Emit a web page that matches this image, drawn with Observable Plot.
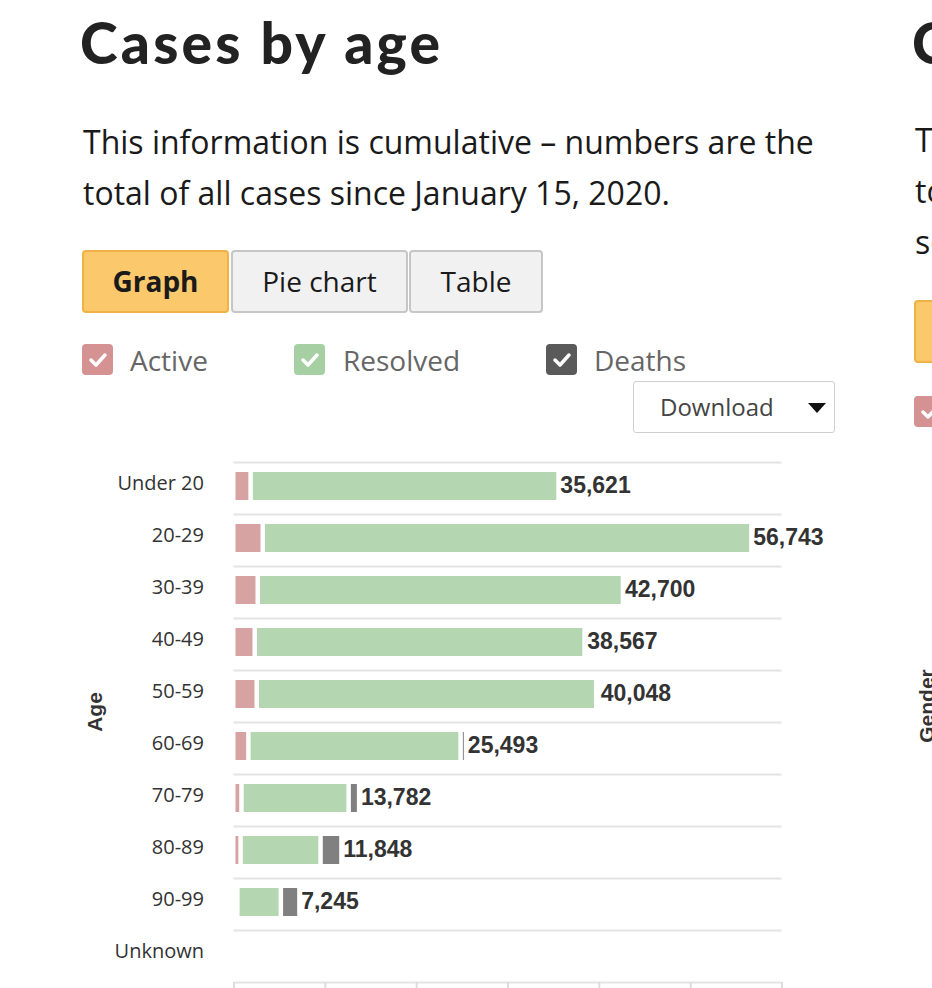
<!DOCTYPE html>
<html>
<head>
<meta charset="utf-8">
<script src="https://cdn.jsdelivr.net/npm/d3@7"></script>
<script src="https://cdn.jsdelivr.net/npm/@observablehq/plot@0.6"></script>
<style>
  html, body { margin: 0; padding: 0; width: 932px; height: 988px; overflow: hidden; background: #fff; }
  body { position: relative; font-family: "Open Sans", sans-serif; color: #1a1a1a; }
  .abs { position: absolute; white-space: nowrap; }
  .title { font-family: Lato, sans-serif; font-weight: 900; font-size: 57px; line-height: 57px; color: #222; letter-spacing: 3.2px; }
  .sub { font-size: 32px; line-height: 51px; color: #1a1a1a; }
  .btn { position: absolute; top: 250px; height: 63px; box-sizing: border-box; border: 2px solid #c6c6c6; background: #f1f1f1; border-radius: 4px;
         font-size: 28px; line-height: 59px; text-align: center; color: #1a1a1a; }
  .btn.on { background: #fcc86c; border-color: #f0b244; font-weight: 700; }
  .box { position: absolute; top: 344px; width: 31px; height: 31px; border-radius: 4px; }
  .box svg { position: absolute; left: 0; top: 0; }
  .leg { position: absolute; top: 338px; font-size: 28px; line-height: 44px; color: #666; }
  .dl { position: absolute; left: 633px; top: 381px; width: 202px; height: 52px; box-sizing: border-box; border: 1px solid #cfcfcf; border-radius: 3px; background: #fff; }
  .dl span { position: absolute; left: 26px; top: 0; font-size: 24px; line-height: 50px; color: #444; }
  .rot { position: absolute; transform: translate(-50%, -50%) rotate(-90deg); font-family: "Liberation Sans", Arial, sans-serif; font-weight: 700; font-size: 21px; color: #333; white-space: nowrap; }
  #chart { position: absolute; left: 0; top: 440px; }
</style>
</head>
<body>
<!-- panel 1 -->
<div class="abs title" style="left:80px; top:14px;">Cases by age</div>
<div class="abs sub" style="left:83px; top:116px;">This information is cumulative – numbers are the<br>total of all cases since January 15, 2020.</div>
<div class="btn on" style="left:82px; width:147px;">Graph</div>
<div class="btn" style="left:231px; width:177px;">Pie chart</div>
<div class="btn" style="left:409px; width:134px;">Table</div>

<div class="box" style="left:82px; background:#d49292;"><svg width="31" height="31"><path d="M9 16 L14 21 L23 11" fill="none" stroke="#fff" stroke-width="3.5" stroke-linecap="round" stroke-linejoin="round"/></svg></div>
<div class="leg" style="left:130px;">Active</div>
<div class="box" style="left:294px; background:#a6d0a3;"><svg width="31" height="31"><path d="M9 16 L14 21 L23 11" fill="none" stroke="#fff" stroke-width="3.5" stroke-linecap="round" stroke-linejoin="round"/></svg></div>
<div class="leg" style="left:343px;">Resolved</div>
<div class="box" style="left:546px; background:#5a5a5a;"><svg width="31" height="31"><path d="M9 16 L14 21 L23 11" fill="none" stroke="#fff" stroke-width="3.5" stroke-linecap="round" stroke-linejoin="round"/></svg></div>
<div class="leg" style="left:594px;">Deaths</div>

<div class="dl"><span>Download</span><svg style="position:absolute; left:173px; top:20px;" width="20" height="12"><path d="M1 1 L19 1 L10 11 Z" fill="#111"/></svg></div>

<div class="rot" style="left:95px; top:712px;">Age</div>

<!-- panel 2 (cut off at the right edge) -->
<div class="abs title" style="left:912px; top:14px;">Cases by gender</div>
<div class="abs sub" style="left:915px; top:114px;">This information is cumulative – numbers are the<br>total of all cases since January 15, 2020,<br>sorted by gender.</div>
<div class="btn on" style="left:914px; top:300px; width:147px;">Graph</div>
<div class="box" style="left:914px; top:396px; background:#d49292;"><svg width="31" height="31"><path d="M9 16 L14 21 L23 11" fill="none" stroke="#fff" stroke-width="3.5" stroke-linecap="round" stroke-linejoin="round"/></svg></div>
<div class="rot" style="left:927px; top:706px;">Gender</div>

<div id="chart"></div>

<script>
// ---- data ----
const ages = ["Under 20", "20-29", "30-39", "40-49", "50-59", "60-69", "70-79", "80-89", "90-99", "Unknown"];
const active   = [1900, 3230, 2680, 2350, 2570, 1660, 900, 800, 450, 0];
const resolved = [33718, 53503, 39990, 36117, 37178, 23233, 11732, 8758, 4760, 0];
const deaths   = [3, 10, 30, 100, 300, 600, 1150, 2290, 2035, 0];
const totals   = [35621, 56743, 42700, 38567, 40048, 25493, 13782, 11848, 7245, null];
const statuses = ["Active", "Resolved", "Deaths"];
const statusColors = ["#d6a2a2", "#b4d7b1", "#808080"];
const xTicks = [0, 10000, 20000, 30000, 40000, 50000, 60000];

const long = [];
ages.forEach((a, i) => {
  long.push({age: a, status: "Active", value: active[i]});
  long.push({age: a, status: "Resolved", value: resolved[i]});
  long.push({age: a, status: "Deaths", value: deaths[i]});
});
const labels = ages.map((a, i) => ({age: a, total: totals[i]})).filter(d => d.total != null);

const chart = Plot.plot({
  width: 932,
  height: 600,
  marginLeft: 233.5,
  marginRight: 150.5,
  marginTop: 22,
  marginBottom: 58,
  style: {fontFamily: "Open Sans, sans-serif", background: "transparent", overflow: "visible"},
  x: {domain: [0, 60000]},
  y: {domain: ages, padding: 0},
  color: {domain: statuses, range: statusColors},
  marks: [
    // horizontal band-boundary grid lines
    Plot.ruleY(ages, {y: d => d, dy: -26, stroke: "#e4e4e4", strokeWidth: 2}),
    Plot.ruleY([ages[ages.length - 1]], {y: d => d, dy: 26, stroke: "#e4e4e4", strokeWidth: 2}),
    // small tick marks on the category axis
    Plot.ruleX(ages, {x: 0, y: d => d, insetTop: 42, insetBottom: -4, stroke: "#dcdcdc", strokeWidth: 2}),
    Plot.ruleX([ages[0]], {x: 0, y: d => d, insetTop: 0, insetBottom: 47, stroke: "#dcdcdc", strokeWidth: 2}),
    // stacked bars
    Plot.barX(long, {x: "value", y: "age", fill: "status", insetTop: 10, insetBottom: 14, insetLeft: 2, insetRight: 2.5}),
    // total labels
    Plot.text(labels, {x: "total", y: "age", text: d => d.total.toLocaleString("en-US"), textAnchor: "start", dx: 1, dy: -2.5,
      fontSize: 23, fontWeight: "bold", fontFamily: "Liberation Sans, Arial, sans-serif", fill: "#333"}),
    // axes
    Plot.axisY({tickSize: 0, tickPadding: 30, fontSize: 20, fill: "#333", dy: -4.5, label: null}),
    Plot.axisX({anchor: "bottom", ticks: xTicks, tickSize: 14, stroke: "#dcdcdc", strokeWidth: 2, fontSize: 20, fill: "#333", tickFormat: d3.format(","), label: null})
  ]
});
document.getElementById("chart").appendChild(chart);
</script>
</body>
</html>
